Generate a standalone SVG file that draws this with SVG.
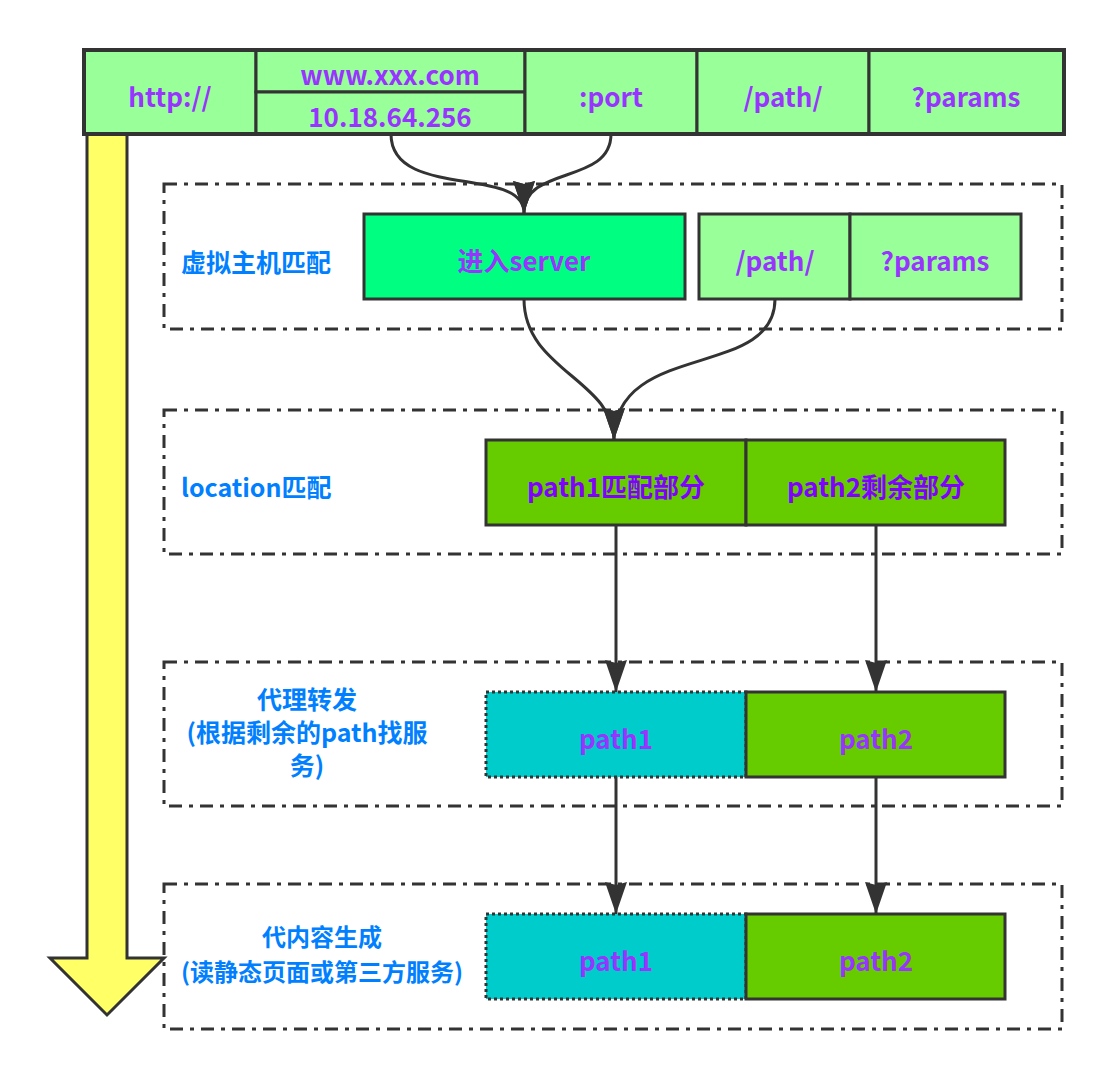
<svg xmlns="http://www.w3.org/2000/svg" width="1115" height="1080" viewBox="0 0 1115 1080">
<style>
text{font-family:"Noto Sans CJK SC","Open Sans",sans-serif;font-weight:bold;text-anchor:middle;dominant-baseline:central}
.p{fill:#9933FF;font-size:26px}
.p2{fill:#8000FF;font-size:26px}
.b{fill:#007FFF;font-size:25px}
.bs{fill:#007FFF;font-size:24px}
.bl{fill:#007FFF;font-size:25px;text-anchor:start}
.cell{stroke:#333;stroke-width:3}
.lg{fill:#99FF99}
.grp{fill:none;stroke:#333;stroke-width:3;stroke-dasharray:13 7 4 7}
.conn{fill:none;stroke:#333;stroke-width:3}
</style>
<defs>
<marker id="ah" markerUnits="userSpaceOnUse" markerWidth="32" markerHeight="24" viewBox="0 -12 32 24" refX="32" refY="0" orient="auto">
<path d="M0,-11 L32,0 L0,11 L3,0 Z" fill="#333"/>
</marker>
</defs>

<g id="flow-arrow">
<polygon points="87,130 127,130 127,958 164,958 107,1015 50,958 87,958" fill="#FFFF66" stroke="#333" stroke-width="3"/>
</g>

<g id="group-vhost"><rect class="grp" x="164" y="184" width="898" height="145"/><text class="bl" x="181" y="261">虚拟主机匹配</text></g>
<g id="group-location"><rect class="grp" x="164" y="410" width="898" height="144"/><text class="bl" x="181" y="486">location匹配</text></g>
<g id="group-proxy"><rect class="grp" x="164" y="662" width="898" height="144"/><text class="b" x="307" y="698">代理转发<tspan x="307" dy="33">(根据剩余的path找服</tspan><tspan x="307" dy="33">务)</tspan></text></g>
<g id="group-content"><rect class="grp" x="164" y="884" width="898" height="145"/><text class="bs" x="322" y="935">代内容生成</text><text class="bs" x="322" y="970">(读静态页面或第三方服务)</text></g>

<g id="url">
<rect class="cell lg" x="84" y="50" width="172" height="84"/>
<text class="p" x="170" y="95">http://</text>
<rect class="cell lg" x="256" y="50" width="269" height="42"/>
<text class="p" x="390" y="73">www.xxx.com</text>
<rect class="cell lg" x="256" y="92" width="269" height="42"/>
<text class="p" x="390" y="115">10.18.64.256</text>
<rect class="cell lg" x="525" y="50" width="172" height="84"/>
<text class="p" x="611" y="95">:port</text>
<rect class="cell lg" x="697" y="50" width="172" height="84"/>
<text class="p" x="783" y="95">/path/</text>
<rect class="cell lg" x="869" y="50" width="195" height="84"/>
<text class="p" x="966" y="95">?params</text>
<rect x="84" y="50" width="980" height="84" fill="none" stroke="#333" stroke-width="4"/>
</g>

<g id="server">
<rect class="cell" x="364" y="214" width="321" height="85" fill="#00FF80"/>
<text class="p" x="524" y="259">进入server</text>
</g>
<g id="rest">
<rect class="cell lg" x="699" y="214" width="151" height="85"/>
<text class="p" x="775" y="259">/path/</text>
<rect class="cell lg" x="850" y="214" width="171" height="85"/>
<text class="p" x="935" y="259">?params</text>
</g>

<g id="location">
<rect class="cell" x="486" y="440" width="260" height="85" fill="#66CC00"/>
<text class="p2" x="616" y="485">path1匹配部分</text>
<rect class="cell" x="746" y="440" width="259" height="85" fill="#66CC00"/>
<text class="p2" x="876" y="485">path2剩余部分</text>
</g>

<g id="proxy">
<rect x="486" y="692" width="260" height="85" fill="#00CCCC" stroke="#333" stroke-width="3" stroke-dasharray="3 3"/>
<text class="p" x="616" y="737">path1</text>
<rect class="cell" x="746" y="692" width="259" height="85" fill="#66CC00"/>
<text class="p" x="876" y="737">path2</text>
</g>

<g id="content">
<rect x="486" y="914" width="260" height="85" fill="#00CCCC" stroke="#333" stroke-width="3" stroke-dasharray="3 3"/>
<text class="p" x="616" y="959">path1</text>
<rect class="cell" x="746" y="914" width="259" height="85" fill="#66CC00"/>
<text class="p" x="876" y="959">path2</text>
</g>

<g id="connectors">
<path class="conn" d="M391,134 C391,200 524,165 524,213" marker-end="url(#ah)"/>
<path class="conn" d="M611,134 C611,185 524,165 524,213" marker-end="url(#ah)"/>
<path class="conn" d="M524,299 C524,370 614,380 614,440" marker-end="url(#ah)"/>
<path class="conn" d="M775,299 C775,380 614,340 614,440" marker-end="url(#ah)"/>
<path class="conn" d="M616,525 L616,692" marker-end="url(#ah)"/>
<path class="conn" d="M876,525 L876,692" marker-end="url(#ah)"/>
<path class="conn" d="M616,777 L616,914" marker-end="url(#ah)"/>
<path class="conn" d="M876,777 L876,914" marker-end="url(#ah)"/>
</g>
</svg>
